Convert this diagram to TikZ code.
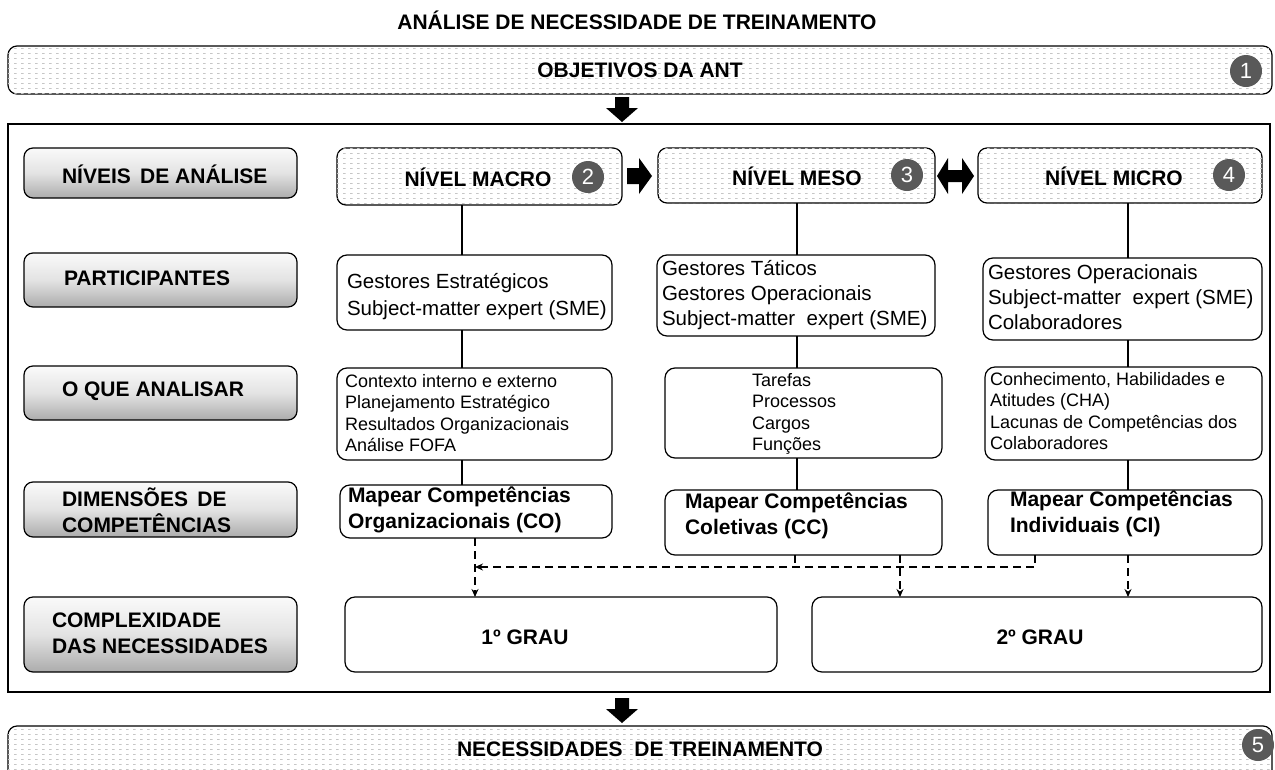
\documentclass[tikz,border=0pt]{standalone}
\usepackage{fontspec}
\setmainfont{Liberation Sans}
\usetikzlibrary{patterns.meta,arrows.meta}

\tikzdeclarepattern{name=dashdots, type=uncolored,
  bounding box={(0pt,0pt) and (7pt,5pt)}, tile size={(7pt,5pt)},
  code={\fill (0pt,0pt) rectangle (3pt,1pt);}}

\definecolor{numgray}{HTML}{595959}

\tikzset{
  every node/.style={inner sep=0pt, outer sep=0pt},
  box/.style args={#1,#2,#3,#4}{minimum width={#3-#1}, minimum height={#4-#2},
     at={({(#1+#3)/2},{(#2+#4)/2})}},
  dotbox/.style={draw=black, line width=1.2pt, rounded corners=9pt, fill=white,
     postaction={pattern=dashdots, pattern color=gray!45}},
  graybox/.style={draw=black, line width=1.2pt, rounded corners=9pt,
     top color=gray!4, bottom color=gray!65, middle color=gray!22},
  wbox/.style={draw=black, line width=1.2pt, rounded corners=10pt, fill=white},
  numc/.style={circle, fill=numgray, text=white, minimum size=32pt,
     font=\fontsize{22}{22}\selectfont},
  hfont/.style={font=\bfseries\fontsize{21}{21}\selectfont},
  lbl/.style={anchor=west, align=left, font=\bfseries\fontsize{21}{26}\selectfont},
  ptext/.style={anchor=west, align=left, font=\fontsize{20.5}{25}\selectfont},
  atext/.style={anchor=west, align=left, font=\fontsize{18}{21.5}\selectfont},
  mtext/.style={anchor=west, align=left, font=\bfseries\fontsize{21}{26}\selectfont},
  conn/.style={line width=1.2pt},
  dconn/.style={line width=1.2pt, dash pattern=on 8pt off 5pt},
  darr/.style={dconn, -{Stealth[length=8pt,width=7pt]}},
  blk/.style={fill=black},
}

\begin{document}
\begin{tikzpicture}[x=1pt,y=-1pt]
\useasboundingbox (0,0) rectangle (1275,769);
\clip (0,0) rectangle (1275,769);
\fill[white] (0,0) rectangle (1275,769);

% title
\node[font=\bfseries\fontsize{21}{21}\selectfont] (title) at (637,20) {ANÁLISE DE NECESSIDADE DE TREINAMENTO};

% top box
\node[dotbox, box={8,46,1272,94}, hfont] (obj) {OBJETIVOS DA ANT};
\node[numc] (n1) at (1246,71) {1};

% arrow down 1
\fill[blk] (615,97) -- (629,97) -- (629,108) -- (638,108) -- (622,122) -- (606,108) -- (615,108) -- cycle;

% main frame
\node[draw=black, line width=1.8pt, box={8,124,1270,692}] (frame) {};

% left gray labels
\node[graybox, box={24,148,297,198}] (l1) {};
\node[graybox, box={24,253,297,307}] (l2) {};
\node[graybox, box={24,366,297,420}] (l3) {};
\node[graybox, box={24,482,297,537}] (l4) {};
\node[graybox, box={24,597,297,672}] (l5) {};
\node[lbl] (t1) at (62,174) {NÍVEIS\,\ DE ANÁLISE};
\node[lbl] (t2) at (64,278) {PARTICIPANTES};
\node[lbl] (t3) at (62,391) {O QUE ANALISAR};
\node[lbl] (t4) at (62,510) {DIMENSÕES\,\ DE\\COMPETÊNCIAS};
\node[lbl] (t5) at (52,633) {COMPLEXIDADE\\DAS NECESSIDADES};

% level boxes
\node[dotbox, box={337,148,622,205}] (macro) {};
\node[dotbox, box={658,148,935,203}] (meso) {};
\node[dotbox, box={978,148,1262,203}] (micro) {};
\node[hfont] (mact) at (478,177) {NÍVEL MACRO};
\node[hfont] (mest) at (797,176) {NÍVEL MESO};
\node[hfont] (mict) at (1114,176) {NÍVEL MICRO};
\node[numc] (n2) at (588,177) {2};
\node[numc] (n3) at (907,175) {3};
\node[numc] (n4) at (1229,175) {4};

% arrows between levels
\fill[blk] (627,168) -- (639,168) -- (639,158) -- (652,176) -- (639,194) -- (639,184) -- (627,184) -- cycle;
\fill[blk] (937,176) -- (948,158) -- (948,170) -- (962,170) -- (962,158) -- (974,176) -- (962,194) -- (962,182) -- (948,182) -- (948,194) -- cycle;

% participants
\node[wbox, box={337,255,612,330}] (p1) {};
\node[wbox, box={657,255,935,336}] (p2) {};
\node[wbox, box={983,258,1262,340}] (p3) {};
\node[ptext, font=\fontsize{20.5}{27}\selectfont] (pt1) at (347,297) {Gestores Estratégicos\\Subject-matter expert (SME)};
\node[ptext] (pt2) at (662,295) {Gestores Táticos\\Gestores Operacionais\\Subject-matter\ \ expert (SME)};
\node[ptext] (pt3) at (988,297) {Gestores Operacionais\\Subject-matter\ \ expert (SME)\\Colaboradores};

% o que analisar
\node[wbox, box={337,368,612,460}] (a1) {};
\node[wbox, box={665,368,942,458}] (a2) {};
\node[wbox, box={985,367,1262,460}] (a3) {};
\node[atext] (at1) at (345,413) {Contexto interno e externo\\Planejamento\ Estratégico\\Resultados\ Organizacionais\\Análise\ FOFA};
\node[atext] (at2) at (752,414) {Tarefas\\Processos\\Cargos\\Funções};
\node[atext] (at3) at (990,411) {Conhecimento,\ Habilidades\ e\\Atitudes (CHA)\\Lacunas de Competências dos\\Colaboradores};

% dimensoes
\node[wbox, box={340,485,612,538}] (d1) {};
\node[wbox, box={665,490,942,555}] (d2) {};
\node[wbox, box={988,490,1262,555}] (d3) {};
\node[mtext] (dt1) at (348,510) {Mapear Competências\\Organizacionais (CO)};
\node[mtext] (dt2) at (685,516) {Mapear Competências\\Coletivas (CC)};
\node[mtext] (dt3) at (1010,514) {Mapear Competências\\Individuais (CI)};

% grau
\node[wbox, box={345,597,777,672}] (g1) {};
\node[wbox, box={812,597,1262,672}] (g2) {};
\node[hfont] (gt1) at (525,637) {1º GRAU};
\node[hfont] (gt2) at (1040,637) {2º GRAU};

% vertical connectors
\coordinate (cx1) at (462,0);
\coordinate (cx2) at (797,0);
\coordinate (cx3) at (1128,0);
\draw[conn] (macro.south -| cx1) -- (p1.north -| cx1);
\draw[conn] (p1.south -| cx1) -- (a1.north -| cx1);
\draw[conn] (a1.south -| cx1) -- (d1.north -| cx1);
\draw[conn] (meso.south -| cx2) -- (p2.north -| cx2);
\draw[conn] (p2.south -| cx2) -- (a2.north -| cx2);
\draw[conn] (a2.south -| cx2) -- (d2.north -| cx2);
\draw[conn] (micro.south -| cx3) -- (p3.north -| cx3);
\draw[conn] (p3.south -| cx3) -- (a3.north -| cx3);
\draw[conn] (a3.south -| cx3) -- (d3.north -| cx3);

% dashed connectors
\coordinate (dx1) at (475,0);
\coordinate (dx2) at (795,0);
\coordinate (dx3) at (900,0);
\coordinate (dx4) at (1035,0);
\coordinate (dx5) at (1128,0);
\coordinate (hy) at (0,567);
\draw[darr] (d1.south -| dx1) -- (g1.north -| dx1);
\draw[darr] (d3.south -| dx4) -- (hy -| dx4) -- (hy -| dx1);
\draw[dconn] (d2.south -| dx2) -- (hy -| dx2);
\draw[darr] (d2.south -| dx3) -- (g2.north -| dx3);
\draw[darr] (d3.south -| dx5) -- (g2.north -| dx5);

% arrow down 2
\fill[blk] (615,698) -- (629,698) -- (629,709) -- (638,709) -- (622,723) -- (606,709) -- (615,709) -- cycle;

% bottom box
\node[dotbox, box={8,726,1272,790}] (nec) {};
\node[hfont] (nect) at (640,749) {NECESSIDADES\ \ DE TREINAMENTO};
\node[numc] (n5) at (1258,745) {5};
\end{tikzpicture}
\end{document}
